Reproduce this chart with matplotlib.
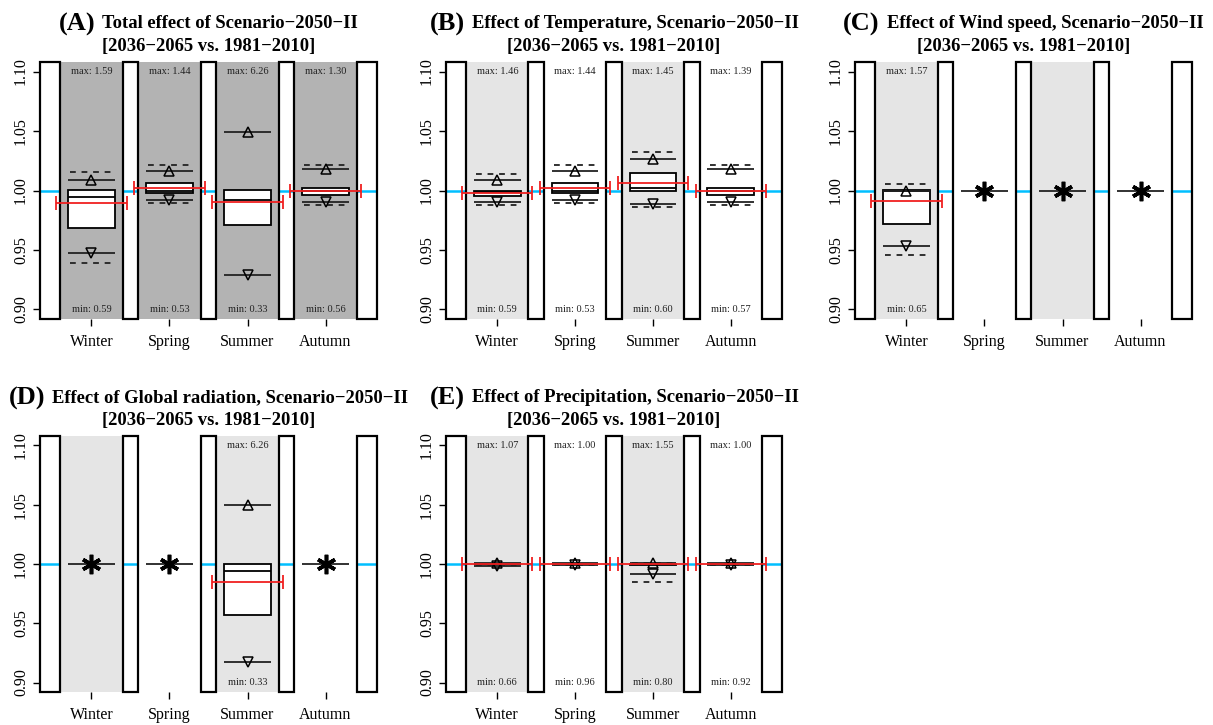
import matplotlib
matplotlib.use('Agg')
import matplotlib.pyplot as plt
import numpy as np
from matplotlib.patches import Rectangle

plt.rcParams['font.family'] = ['Liberation Serif', 'DejaVu Serif']

nan = np.nan
seasons = ['Winter', 'Spring', 'Summer', 'Autumn']
letters = ['(A)', '(B)', '(C)', '(D)', '(E)']
titles = ['Total effect of Scenario\u22122050\u2212II',
          'Effect of Temperature, Scenario\u22122050\u2212II',
          'Effect of Wind speed, Scenario\u22122050\u2212II',
          'Effect of Global radiation, Scenario\u22122050\u2212II',
          'Effect of Precipitation, Scenario\u22122050\u2212II']
period = '[2036\u22122065 vs. 1981\u22122010]'
y_ticks = [0.90, 0.95, 1.00, 1.05, 1.10]

# rows: panels A..E ; columns: Winter, Spring, Summer, Autumn
flat = [[False, False, False, False],
        [False, False, False, False],
        [False, True, True, True],
        [True, True, False, True],
        [False, False, False, False]]
dash_hi = [[1.0156, 1.0212, nan, 1.0217],
           [1.0136, 1.0212, 1.0327, 1.0217],
           [1.0052, nan, nan, nan],
           [nan, nan, nan, nan],
           [1.0004, 1.0003, 1.0008, 1.0002]]
whisk_hi = [[1.0091, 1.0167, 1.0495, 1.0178],
            [1.0086, 1.0167, 1.0265, 1.0178],
            [1.0000, nan, nan, nan],
            [nan, nan, 1.0494, nan],
            [1.0010, 1.0008, 1.0006, 1.0006]]
q3 = [[1.0000, 1.0060, 1.0000, 1.0018],
      [1.0000, 1.0060, 1.0144, 1.0018],
      [1.0000, nan, nan, nan],
      [nan, nan, 1.0000, nan],
      [1.0004, 1.0003, 1.0002, 1.0003]]
median = [[0.9945, 1.0000, 0.9920, 1.0000],
          [0.9990, 1.0000, 1.0018, 1.0000],
          [1.0000, nan, nan, nan],
          [nan, nan, 0.9942, nan],
          [1.0000, 1.0000, 1.0000, 1.0000]]
q1 = [[0.9687, 0.9976, 0.9710, 0.9959],
      [0.9954, 0.9976, 0.9996, 0.9959],
      [0.9718, nan, nan, nan],
      [nan, nan, 0.9568, nan],
      [0.9996, 0.9997, 0.9995, 0.9996]]
whisk_lo = [[0.9474, 0.9917, 0.9289, 0.9900],
            [0.9903, 0.9917, 0.9886, 0.9900],
            [0.9536, nan, nan, nan],
            [nan, nan, 0.9169, nan],
            [0.9985, 0.9990, 0.9913, 0.9988]]
dash_lo = [[0.9387, 0.9895, nan, 0.9875],
           [0.9878, 0.9898, 0.9858, 0.9878],
           [0.9457, nan, nan, nan],
           [nan, nan, nan, nan],
           [0.9992, 0.9993, 0.9852, 0.9993]]
mean = [[0.9892, 1.0024, 0.9903, 1.0000],
        [0.9979, 1.0024, 1.0066, 1.0000],
        [0.9912, nan, nan, nan],
        [nan, nan, 0.9844, nan],
        [1.0000, 1.0000, 1.0000, 1.0000]]
max_lab = [['1.59', '1.44', '6.26', '1.30'],
           ['1.46', '1.44', '1.45', '1.39'],
           ['1.57', None, None, None],
           [None, None, '6.26', None],
           ['1.07', '1.00', '1.55', '1.00']]
min_lab = [['0.59', '0.53', '0.33', '0.56'],
           ['0.59', '0.53', '0.60', '0.57'],
           ['0.65', None, None, None],
           [None, None, '0.33', None],
           ['0.66', '0.96', '0.80', '0.92']]

W, H = 1213, 725
fig = plt.figure(figsize=(W / 100, H / 100), dpi=100)

# axes boxes in pixels: left, top, right, bottom
boxes = [(40, 62, 377, 319), (446, 62, 782, 319), (855, 62, 1192, 319),
         (40, 436, 377, 692), (446, 436, 782, 692)]

XMIN, XMAX = 0.34, 4.66
YMIN, YMAX = 0.892, 1.108
HW = 0.3
axes = []
for p in range(5):
    l, t, r, b = boxes[p]
    ax = fig.add_axes([l / W, 1 - b / H, (r - l) / W, (b - t) / H])
    axes.append(ax)
    ax.set_xlim(XMIN, XMAX)
    ax.set_ylim(YMIN, YMAX)
    for s in ax.spines.values():
        s.set_visible(False)
    xs = np.arange(1, 5)
    # season shading
    for i in range(4):
        if p == 0:
            col = '#b3b3b3'
        else:
            col = '#e5e5e5' if i % 2 == 0 else 'white'
        ax.axvspan(xs[i] - 0.4, xs[i] + 0.4, color=col, lw=0, zorder=2)
    # separators
    seps = [(XMIN, 0.6)] + [(k + 0.4, k + 0.6) for k in (1, 2, 3)] + [(4.4, XMAX)]
    for (a, bb) in seps:
        ax.add_patch(Rectangle((a, YMIN), bb - a, YMAX - YMIN, facecolor='white',
                               edgecolor='none', zorder=1))
        ax.add_patch(Rectangle((a, YMIN), bb - a, YMAX - YMIN, facecolor='none',
                               edgecolor='black', lw=1.6, zorder=3, clip_on=False))
    ax.axhline(1.0, color='#00bfff', lw=1.8, zorder=1.5)

    for i in range(4):
        x = xs[i]
        if flat[p][i]:
            ax.hlines(1.0, x - HW, x + HW, color='#222222', lw=1.3, zorder=5)
            ax.plot([x], [1.0], marker=(6, 2, 0), ms=14, mew=2.6, color='black', zorder=6)
            continue
        ax.bar([x], [q3[p][i] - q1[p][i]], bottom=[q1[p][i]], width=2 * HW,
               color='white', edgecolor='black', lw=1.3, zorder=4)
        ax.hlines(median[p][i], x - HW, x + HW, color='black', lw=1.3, zorder=5)
        ax.hlines([whisk_hi[p][i], whisk_lo[p][i]], x - HW, x + HW,
                  color='#222222', lw=1.3, zorder=5)
        ax.hlines([dash_hi[p][i], dash_lo[p][i]], x - HW + 0.03, x + HW - 0.03,
                  color='#222222', lw=1.3, linestyles=(0, (3.2, 3.2)), zorder=5)
        ax.plot([x], [whisk_hi[p][i]], '^', ms=7, mfc='none', mec='black', mew=1.1, zorder=6)
        ax.plot([x], [whisk_lo[p][i]], 'v', ms=7, mfc='none', mec='black', mew=1.1, zorder=6)
        ax.errorbar([x], [mean[p][i]], xerr=[0.45], fmt='none', ecolor='#f02020',
                    elinewidth=1.3, capsize=5, capthick=1.3, zorder=7)
    for i in range(4):
        if max_lab[p][i]:
            ax.text(xs[i], 1.10, 'max: ' + max_lab[p][i], ha='center', va='center',
                    fontsize=7.5, color='#222222', zorder=8)
        if min_lab[p][i]:
            ax.text(xs[i], 0.90, 'min: ' + min_lab[p][i], ha='center', va='center',
                    fontsize=7.5, color='#222222', zorder=8)

    ax.set_xticks(xs)
    ax.set_xticklabels(seasons, fontsize=11.5)
    ax.set_yticks(y_ticks)
    ax.set_yticklabels(['%.2f' % v for v in y_ticks], fontsize=11.5, rotation=90, va='center')
    ax.tick_params(axis='x', length=5, width=1, pad=6)
    ax.tick_params(axis='y', length=5, width=1, pad=3)

# titles
fig.canvas.draw()
renderer = fig.canvas.get_renderer()
for p in range(5):
    l, t, r, b = boxes[p]
    cx = (l + r) / 2
    y1 = 1 - (t - 38) / H
    y2 = 1 - (t - 16) / H
    t_let = fig.text(0, y1, letters[p], fontsize=19, fontweight='bold', ha='left', va='center')
    t_main = fig.text(0, y1, titles[p], fontsize=13.4, fontweight='bold', ha='left', va='center')
    w1 = t_let.get_window_extent(renderer).width
    w2 = t_main.get_window_extent(renderer).width
    gap = 7
    x0 = cx - (w1 + gap + w2) / 2
    t_let.set_x(x0 / W)
    t_main.set_x((x0 + w1 + gap) / W)
    fig.text(cx / W, y2, period, fontsize=13.4, fontweight='bold', ha='center', va='center')

fig.savefig('out.png', dpi=100)
